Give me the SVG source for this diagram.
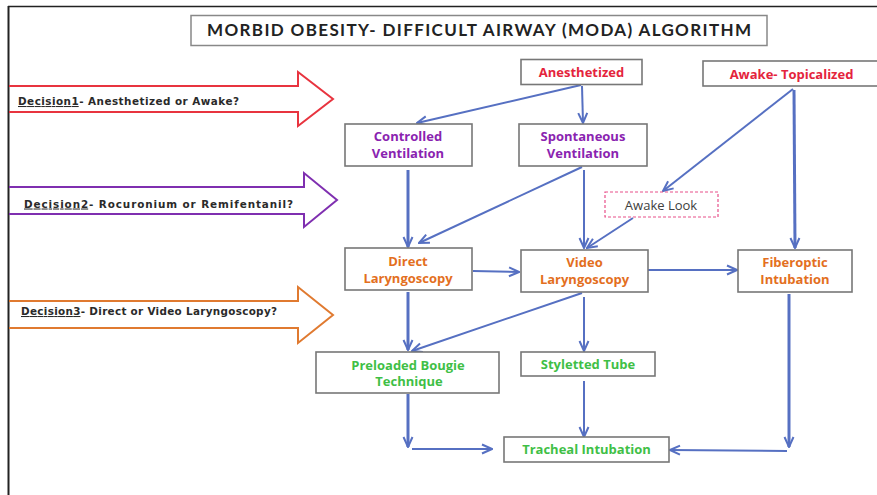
<svg xmlns="http://www.w3.org/2000/svg" width="877" height="495" viewBox="0 0 877 495">
<style>
.box{fill:#fff;stroke:#777;stroke-width:1.6}
.t{font-family:"Open Sans","Liberation Sans",sans-serif;font-weight:bold;font-size:13px;text-anchor:middle}
.red{fill:#e4243c}.pur{fill:#8a23b0}.ora{fill:#e36f1e}.grn{fill:#3fbf46}
.dec{font-family:"DejaVu Sans","Liberation Sans",sans-serif;font-weight:bold;font-size:10.4px;fill:#2a2a2a}
.c{fill:none;stroke:#5670c2;stroke-width:2;marker-end:url(#ah)}
.c.k{stroke-width:3}
.bigarrow{fill:none;stroke-width:2;stroke-linejoin:miter}
</style>
<defs>
<marker id="ah" viewBox="0 0 12 12" refX="11" refY="6" markerWidth="12" markerHeight="12" markerUnits="userSpaceOnUse" orient="auto">
<path d="M1,1.5 L11,6 L1,10.5" fill="none" stroke="#5670c2" stroke-width="2"/>
</marker>
</defs>
<rect width="877" height="495" fill="#fff"/>
<g id="frame">
<line x1="8.5" y1="6" x2="8.5" y2="495" stroke="#222" stroke-width="2"/>
<line x1="8" y1="6.5" x2="877" y2="6.5" stroke="#222" stroke-width="1.5"/>
</g>
<g id="title">
<rect x="191" y="15.5" width="576" height="30" fill="#fff" stroke="#888" stroke-width="1.5"/>
<text x="479" y="36" font-family="Lato,'Liberation Sans',sans-serif" font-weight="bold" font-size="17" fill="#222" text-anchor="middle" textLength="544">MORBID OBESITY- DIFFICULT AIRWAY (MODA) ALGORITHM</text>
</g>
<g id="decision1">
<polyline class="bigarrow" stroke="#e8343f" points="9,86 298,86 298,72 333,99 298,126 298,112 9,112"/>
<text class="dec" x="18" y="105" textLength="221"><tspan text-decoration="underline">Decision1</tspan>- Anesthetized or Awake?</text>
</g>
<g id="decision2">
<polyline class="bigarrow" stroke="#7f2fb0" points="9,187 304,187 304,173 337,200 304,227 304,214 9,214"/>
<text class="dec" x="24" y="207.5" textLength="269"><tspan text-decoration="underline">Decision2</tspan>- Rocuronium or Remifentanil?</text>
</g>
<g id="decision3">
<polyline class="bigarrow" stroke="#e07a30" points="9,301 298,301 298,287 333,315 298,343 298,328 9,328"/>
<text class="dec" x="21" y="315" textLength="256"><tspan text-decoration="underline">Decision3</tspan>- Direct or Video Laryngoscopy?</text>
</g>
<g id="connectors">
<path class="c" d="M581,85 L417,123"/>
<path class="c" d="M582,86 L583,123"/>
<path class="c" d="M793,89 L663,191"/>
<path class="c k" d="M794,90 L795,248"/>
<path class="c k" d="M408,170 L408,247"/>
<path class="c" d="M582,167 L419,243"/>
<path class="c" d="M584,170 L584,248"/>
<path class="c" d="M633,218 L587,248"/>
<path class="c" d="M473,271 L519,272"/>
<path class="c" d="M648,270 L737,270"/>
<path class="c k" d="M408,292 L408,350"/>
<path class="c" d="M582,293 L412,351"/>
<path class="c" d="M584,297 L584,351"/>
<path class="c k" d="M408,394 L408,447"/>
<path class="c" d="M412,449 L492,449"/>
<path class="c" d="M584,381 L584,437"/>
<path class="c k" d="M789,294 L789,447"/>
<path class="c" d="M787,451 L670,450"/>
</g>
<g id="anesthetized">
<rect class="box" x="521" y="59.5" width="121" height="25"/>
<text class="t red" x="581.5" y="76.5">Anesthetized</text>
</g>
<g id="awake-topicalized">
<rect class="box" x="703" y="61" width="180" height="25"/>
<text class="t red" x="791.5" y="78.5">Awake- Topicalized</text>
</g>
<g id="controlled-ventilation">
<rect class="box" x="345" y="124" width="127" height="42"/>
<text class="t pur" x="408" y="141">Controlled</text>
<text class="t pur" x="408" y="158">Ventilation</text>
</g>
<g id="spontaneous-ventilation">
<rect class="box" x="519" y="124" width="128" height="42"/>
<text class="t pur" x="583" y="141">Spontaneous</text>
<text class="t pur" x="583" y="158">Ventilation</text>
</g>
<g id="awake-look">
<rect x="605" y="192" width="113" height="25" fill="#fff" stroke="#e8508a" stroke-width="1.2" stroke-dasharray="3,2"/>
<text x="661" y="210" font-family="'Open Sans','Liberation Sans',sans-serif" font-size="13" fill="#404040" text-anchor="middle">Awake Look</text>
</g>
<g id="direct-laryngoscopy">
<rect class="box" x="345" y="248" width="127" height="42"/>
<text class="t ora" x="408" y="265.5">Direct</text>
<text class="t ora" x="408" y="282.5">Laryngoscopy</text>
</g>
<g id="video-laryngoscopy">
<rect class="box" x="521" y="250" width="127" height="42"/>
<text class="t ora" x="584.5" y="267">Video</text>
<text class="t ora" x="584.5" y="284">Laryngoscopy</text>
</g>
<g id="fiberoptic-intubation">
<rect class="box" x="738" y="250" width="114" height="42"/>
<text class="t ora" x="795" y="267">Fiberoptic</text>
<text class="t ora" x="795" y="284">Intubation</text>
</g>
<g id="preloaded-bougie">
<rect class="box" x="316" y="352" width="183" height="41"/>
<text class="t grn" x="408" y="369.5">Preloaded Bougie</text>
<text class="t grn" x="409" y="386">Technique</text>
</g>
<g id="styletted-tube">
<rect class="box" x="521" y="352" width="134" height="24"/>
<text class="t grn" x="588" y="369">Styletted Tube</text>
</g>
<g id="tracheal-intubation">
<rect class="box" x="504" y="437" width="165" height="25"/>
<text class="t grn" x="586.5" y="454">Tracheal Intubation</text>
</g>
</svg>
